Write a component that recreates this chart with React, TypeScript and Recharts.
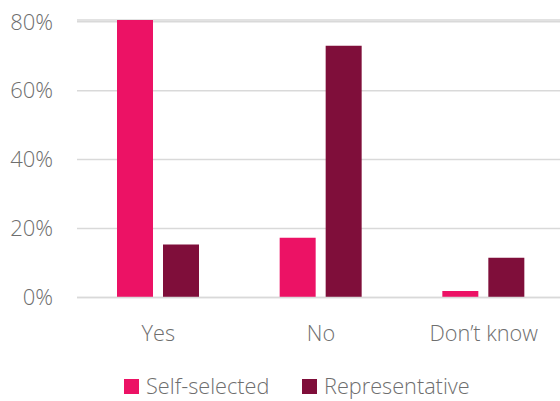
import React from 'react';
import { BarChart, Bar, XAxis, YAxis, CartesianGrid, Legend } from 'recharts';

const categories = ['Yes', 'No', 'Don’t know'];
const selfSelected = [80.5, 17.3, 1.9];
const representative = [15.4, 73.0, 11.5];
const yTicks = [0, 20, 40, 60, 80];

const seriesNames = ['Self-selected', 'Representative'];
const colors = ['#EC1265', '#7F0E3A'];

const data = categories.map((c, i) => ({
  name: c,
  self: selfSelected[i],
  rep: representative[i],
}));

const FONT = '"Open Sans", "Segoe UI", sans-serif';
const TEXT = '#6e6e6e';
const WEIGHT = 300;

const LegendContent = () => (
  <div style={{ position: 'relative', height: 30, width: 560, fontFamily: FONT }}>
    {seriesNames.map((n, i) => (
      <div
        key={n}
        style={{
          position: 'absolute',
          left: i === 0 ? 124 : 302,
          top: 0,
          height: 30,
          display: 'flex',
          alignItems: 'center',
          whiteSpace: 'nowrap',
        }}
      >
        <span style={{ display: 'inline-block', width: 15, height: 15, background: colors[i], marginRight: 7 }} />
        <span style={{ fontSize: 21.7, color: TEXT, lineHeight: '30px', fontWeight: WEIGHT }}>{n}</span>
      </div>
    ))}
  </div>
);

export default function App() {
  return (
    <div style={{ width: 560, height: 401, overflow: 'hidden', background: '#fff' }}>
      <style>{'body{margin:0}'}</style>
      <BarChart
        width={565}
        height={401}
        data={data}
        margin={{ top: 20, right: 0, left: 0, bottom: 0 }}
        barSize={36}
        barGap={10}
      >
        <CartesianGrid vertical={false} stroke="#d9d9d9" strokeWidth={1.5} />
        <XAxis
          dataKey="name"
          axisLine={{ stroke: '#d9d9d9', strokeWidth: 1.5 }}
          tickLine={false}
          tickSize={0}
          tickMargin={28}
          height={73.5}
          interval={0}
          tick={{ fill: TEXT, fontSize: 21.7, fontFamily: FONT, fontWeight: WEIGHT }}
        />
        <YAxis
          width={77}
          domain={[0, 80]}
          ticks={yTicks}
          axisLine={false}
          tickLine={false}
          tickSize={0}
          tickMargin={24}
          tickFormatter={(v: number) => `${v}%`}
          tick={{ fill: TEXT, fontSize: 22, fontFamily: FONT, fontWeight: WEIGHT }}
        />
        <Legend verticalAlign="bottom" content={<LegendContent />} wrapperStyle={{ height: 30 }} />
        <Bar dataKey="self" name={seriesNames[0]} fill={colors[0]} isAnimationActive={false} />
        <Bar dataKey="rep" name={seriesNames[1]} fill={colors[1]} isAnimationActive={false} />
      </BarChart>
    </div>
  );
}
